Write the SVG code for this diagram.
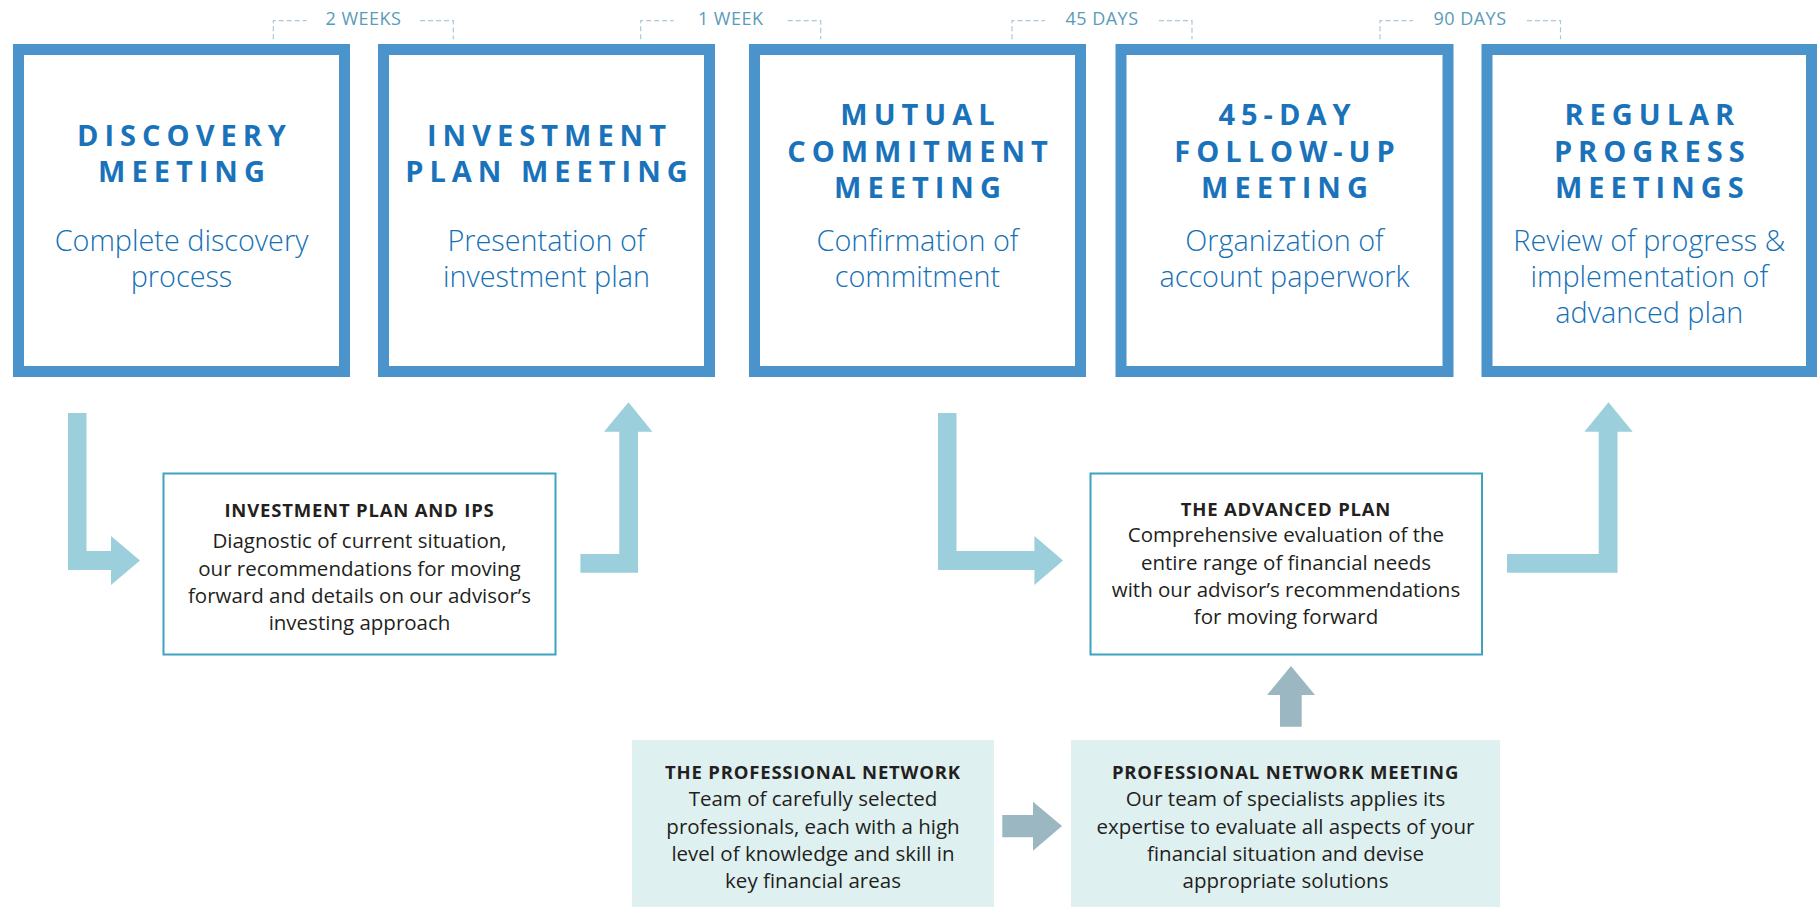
<svg xmlns="http://www.w3.org/2000/svg" width="1820" height="907" viewBox="0 0 1820 907">
<style>
  .stage { fill: #ffffff; stroke: #4a94cb; stroke-width: 11; }
  .ttl { font-family: "Open Sans", "Liberation Sans", sans-serif; font-weight: 700; font-size: 29px; fill: #1a73ba; letter-spacing: 6px; text-anchor: middle; }
  .sub { font-family: "Open Sans", "Liberation Sans", sans-serif; font-weight: 300; font-size: 28.8px; fill: #1470b5; text-anchor: middle; }
  .gap { font-family: "Open Sans", "Liberation Sans", sans-serif; font-size: 18px; fill: #5a9bba; letter-spacing: 0.5px; text-anchor: middle; }
  .brk { fill: none; stroke: #a9c9da; stroke-width: 1.2; stroke-dasharray: 5 3; }
  .out { fill: #ffffff; stroke: #3ea3c0; stroke-width: 2; }
  .net { fill: #dff0f0; }
  .bt { font-family: "Open Sans", "Liberation Sans", sans-serif; font-weight: 700; font-size: 18.5px; fill: #231f20; letter-spacing: 0.8px; text-anchor: middle; }
  .bd { font-family: "Open Sans", "Liberation Sans", sans-serif; font-size: 20.5px; fill: #231f20; text-anchor: middle; }
  .arr { fill: #9ccfdc; }
  .garr { fill: #9bb8c2; }
</style>

<g id="gaps">
  <g id="gap-1">
    <path class="brk" d="M273.3,39.3 V20.7 H306.5 M420,20.7 H453.3 V39.3"/>
    <text class="gap" x="363.5" y="24.5">2 WEEKS</text>
  </g>
  <g id="gap-2">
    <path class="brk" d="M640.7,39.3 V20.7 H673.7 M787.7,20.7 H820.7 V39.3"/>
    <text class="gap" x="730.7" y="24.5">1 WEEK</text>
  </g>
  <g id="gap-3">
    <path class="brk" d="M1012,39.3 V20.7 H1045 M1159,20.7 H1192 V39.3"/>
    <text class="gap" x="1102" y="24.5">45 DAYS</text>
  </g>
  <g id="gap-4">
    <path class="brk" d="M1380,39.3 V20.7 H1413 M1527,20.7 H1560.5 V39.3"/>
    <text class="gap" x="1470" y="24.5">90 DAYS</text>
  </g>
</g>

<g id="discovery-meeting">
  <rect class="stage" x="18.5" y="49.5" width="326" height="322"/>
  <text class="ttl" x="184.5" y="145.7">DISCOVERY</text>
  <text class="ttl" x="184.5" y="181.7">MEETING</text>
  <text class="sub" x="181.5" y="251">Complete discovery</text>
  <text class="sub" x="181.5" y="287">process</text>
</g>

<g id="investment-plan-meeting">
  <rect class="stage" x="383.5" y="49.5" width="326" height="322"/>
  <text class="ttl" x="549.5" y="145.7">INVESTMENT</text>
  <text class="ttl" x="549.5" y="181.7">PLAN MEETING</text>
  <text class="sub" x="546.5" y="251">Presentation of</text>
  <text class="sub" x="546.5" y="287">investment plan</text>
</g>

<g id="mutual-commitment-meeting">
  <rect class="stage" x="754.5" y="49.5" width="326" height="322"/>
  <text class="ttl" x="920.5" y="125">MUTUAL</text>
  <text class="ttl" x="920.5" y="162">COMMITMENT</text>
  <text class="ttl" x="920.5" y="198">MEETING</text>
  <text class="sub" x="917.5" y="251">Confirmation of</text>
  <text class="sub" x="917.5" y="287">commitment</text>
</g>

<g id="follow-up-meeting">
  <rect class="stage" x="1121" y="49.5" width="327" height="322"/>
  <text class="ttl" x="1287.5" y="125">45-DAY</text>
  <text class="ttl" x="1287.5" y="162">FOLLOW-UP</text>
  <text class="ttl" x="1287.5" y="198">MEETING</text>
  <text class="sub" x="1284.5" y="251">Organization of</text>
  <text class="sub" x="1284.5" y="287">account paperwork</text>
</g>

<g id="regular-progress-meetings">
  <rect class="stage" x="1487" y="49.5" width="324.5" height="322"/>
  <text class="ttl" x="1652.3" y="125">REGULAR</text>
  <text class="ttl" x="1652.3" y="162">PROGRESS</text>
  <text class="ttl" x="1652.3" y="198">MEETINGS</text>
  <text class="sub" x="1649.3" y="251">Review of progress &amp;</text>
  <text class="sub" x="1649.3" y="287">implementation of</text>
  <text class="sub" x="1649.3" y="323">advanced plan</text>
</g>

<g id="investment-plan-ips">
  <rect class="out" x="163.5" y="473.5" width="392" height="181"/>
  <text class="bt" x="359.5" y="516.5">INVESTMENT PLAN AND IPS</text>
  <text class="bd" x="359.5" y="548">Diagnostic of current situation,</text>
  <text class="bd" x="359.5" y="575.7">our recommendations for moving</text>
  <text class="bd" x="359.5" y="603.3">forward and details on our advisor’s</text>
  <text class="bd" x="359.5" y="630">investing approach</text>
</g>

<g id="advanced-plan">
  <rect class="out" x="1090.5" y="473.5" width="391.5" height="181"/>
  <text class="bt" x="1286" y="515.5">THE ADVANCED PLAN</text>
  <text class="bd" x="1286" y="542.3">Comprehensive evaluation of the</text>
  <text class="bd" x="1286" y="570">entire range of financial needs</text>
  <text class="bd" x="1286" y="597.3">with our advisor’s recommendations</text>
  <text class="bd" x="1286" y="624.3">for moving forward</text>
</g>

<g id="professional-network">
  <rect class="net" x="632" y="740" width="362" height="167"/>
  <text class="bt" x="813" y="778.5">THE PROFESSIONAL NETWORK</text>
  <text class="bd" x="813" y="806">Team of carefully selected</text>
  <text class="bd" x="813" y="834">professionals, each with a high</text>
  <text class="bd" x="813" y="861">level of knowledge and skill in</text>
  <text class="bd" x="813" y="887.5">key financial areas</text>
</g>

<g id="professional-network-meeting">
  <rect class="net" x="1071" y="740" width="429" height="167"/>
  <text class="bt" x="1285.5" y="778.5">PROFESSIONAL NETWORK MEETING</text>
  <text class="bd" x="1285.5" y="806">Our team of specialists applies its</text>
  <text class="bd" x="1285.5" y="834">expertise to evaluate all aspects of your</text>
  <text class="bd" x="1285.5" y="861">financial situation and devise</text>
  <text class="bd" x="1285.5" y="887.5">appropriate solutions</text>
</g>

<g id="connectors">
  <polygon class="arr" points="68,413 86.5,413 86.5,551 111,551 111,536 140,560.5 111,585 111,570 68,570"/>
  <polygon class="arr" points="580.4,554 619.3,554 619.3,431.7 604,431.7 628.5,402.3 652.4,431.7 638,431.7 638,572.7 580.4,572.7"/>
  <polygon class="arr" points="938,413 956.5,413 956.5,551 1034.4,551 1034.4,536 1063,560.5 1034.4,585 1034.4,570 938,570"/>
  <polygon class="arr" points="1507,554 1598.7,554 1598.7,431.7 1584.4,431.7 1608.5,402.3 1632.7,431.7 1617.5,431.7 1617.5,572.7 1507,572.7"/>
  <polygon class="garr" points="1280,726.7 1280,695 1267,695 1291,666 1315,695 1301.7,695 1301.7,726.7"/>
  <polygon class="garr" points="1002.3,815 1033,815 1033,801.7 1062,826 1033,850.7 1033,837.3 1002.3,837.3"/>
</g>
</svg>
